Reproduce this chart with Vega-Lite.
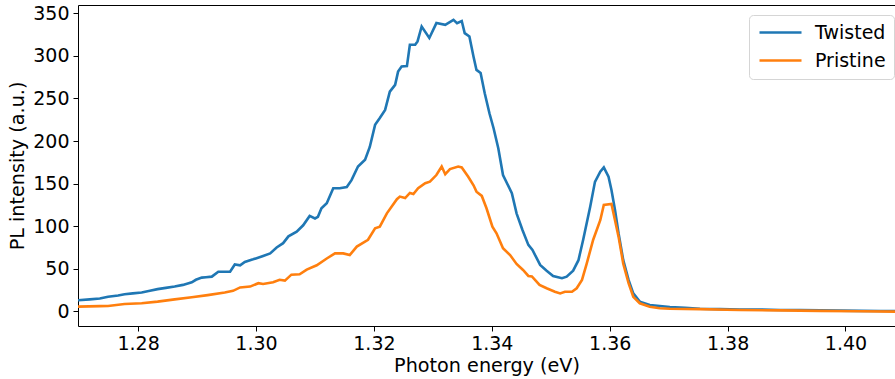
{
  "$schema": "https://vega.github.io/schema/vega-lite/v6.json",
  "autosize": "none",
  "width": 817,
  "height": 321,
  "padding": {"left": 78, "top": 5, "right": 0, "bottom": 53},
  "background": "white",
  "config": {
    "font": "DejaVu Sans",
    "view": {"stroke": null},
    "axis": {
      "grid": false,
      "domainColor": "black",
      "domainWidth": 1,
      "tickColor": "black",
      "tickSize": 5,
      "tickWidth": 1,
      "labelColor": "black",
      "labelFont": "DejaVu Sans",
      "labelFontSize": 19,
      "titleColor": "black",
      "titleFont": "DejaVu Sans",
      "titleFontSize": 19.2,
      "titleFontWeight": "normal"
    }
  },
  "datasets": {
    "spectra": [
      {"energy": 1.2698, "intensity": 13, "sample": "Twisted"},
      {"energy": 1.2718, "intensity": 14, "sample": "Twisted"},
      {"energy": 1.2735, "intensity": 15, "sample": "Twisted"},
      {"energy": 1.2749, "intensity": 17, "sample": "Twisted"},
      {"energy": 1.2766, "intensity": 18.5, "sample": "Twisted"},
      {"energy": 1.2777, "intensity": 20, "sample": "Twisted"},
      {"energy": 1.2791, "intensity": 21, "sample": "Twisted"},
      {"energy": 1.2806, "intensity": 22, "sample": "Twisted"},
      {"energy": 1.2820, "intensity": 24, "sample": "Twisted"},
      {"energy": 1.2833, "intensity": 26, "sample": "Twisted"},
      {"energy": 1.2847, "intensity": 27.5, "sample": "Twisted"},
      {"energy": 1.2862, "intensity": 29, "sample": "Twisted"},
      {"energy": 1.2876, "intensity": 31, "sample": "Twisted"},
      {"energy": 1.2891, "intensity": 34, "sample": "Twisted"},
      {"energy": 1.2898, "intensity": 37, "sample": "Twisted"},
      {"energy": 1.2908, "intensity": 39.5, "sample": "Twisted"},
      {"energy": 1.2915, "intensity": 40, "sample": "Twisted"},
      {"energy": 1.2925, "intensity": 40.7, "sample": "Twisted"},
      {"energy": 1.2936, "intensity": 46.5, "sample": "Twisted"},
      {"energy": 1.2947, "intensity": 46.5, "sample": "Twisted"},
      {"energy": 1.2956, "intensity": 46.5, "sample": "Twisted"},
      {"energy": 1.2964, "intensity": 55, "sample": "Twisted"},
      {"energy": 1.2973, "intensity": 54, "sample": "Twisted"},
      {"energy": 1.2981, "intensity": 58, "sample": "Twisted"},
      {"energy": 1.2995, "intensity": 61, "sample": "Twisted"},
      {"energy": 1.3012, "intensity": 65, "sample": "Twisted"},
      {"energy": 1.3024, "intensity": 68, "sample": "Twisted"},
      {"energy": 1.3035, "intensity": 75, "sample": "Twisted"},
      {"energy": 1.3046, "intensity": 80, "sample": "Twisted"},
      {"energy": 1.3055, "intensity": 88, "sample": "Twisted"},
      {"energy": 1.3069, "intensity": 93.5, "sample": "Twisted"},
      {"energy": 1.3080, "intensity": 101, "sample": "Twisted"},
      {"energy": 1.3091, "intensity": 112, "sample": "Twisted"},
      {"energy": 1.3100, "intensity": 109, "sample": "Twisted"},
      {"energy": 1.3105, "intensity": 111, "sample": "Twisted"},
      {"energy": 1.3111, "intensity": 121, "sample": "Twisted"},
      {"energy": 1.3120, "intensity": 127, "sample": "Twisted"},
      {"energy": 1.3131, "intensity": 144.5, "sample": "Twisted"},
      {"energy": 1.3142, "intensity": 144.5, "sample": "Twisted"},
      {"energy": 1.3154, "intensity": 146, "sample": "Twisted"},
      {"energy": 1.3162, "intensity": 154, "sample": "Twisted"},
      {"energy": 1.3173, "intensity": 170, "sample": "Twisted"},
      {"energy": 1.3185, "intensity": 178, "sample": "Twisted"},
      {"energy": 1.3193, "intensity": 193, "sample": "Twisted"},
      {"energy": 1.3202, "intensity": 219, "sample": "Twisted"},
      {"energy": 1.3210, "intensity": 227, "sample": "Twisted"},
      {"energy": 1.3219, "intensity": 236.5, "sample": "Twisted"},
      {"energy": 1.3227, "intensity": 258, "sample": "Twisted"},
      {"energy": 1.3236, "intensity": 266, "sample": "Twisted"},
      {"energy": 1.3241, "intensity": 281.5, "sample": "Twisted"},
      {"energy": 1.3247, "intensity": 287.5, "sample": "Twisted"},
      {"energy": 1.3256, "intensity": 288, "sample": "Twisted"},
      {"energy": 1.3261, "intensity": 313, "sample": "Twisted"},
      {"energy": 1.3270, "intensity": 313, "sample": "Twisted"},
      {"energy": 1.3274, "intensity": 317, "sample": "Twisted"},
      {"energy": 1.3281, "intensity": 334.5, "sample": "Twisted"},
      {"energy": 1.3294, "intensity": 321, "sample": "Twisted"},
      {"energy": 1.3306, "intensity": 338.5, "sample": "Twisted"},
      {"energy": 1.3321, "intensity": 336.4, "sample": "Twisted"},
      {"energy": 1.3335, "intensity": 342.3, "sample": "Twisted"},
      {"energy": 1.3341, "intensity": 338.5, "sample": "Twisted"},
      {"energy": 1.3349, "intensity": 341, "sample": "Twisted"},
      {"energy": 1.3354, "intensity": 326.7, "sample": "Twisted"},
      {"energy": 1.3362, "intensity": 322.7, "sample": "Twisted"},
      {"energy": 1.3369, "intensity": 299, "sample": "Twisted"},
      {"energy": 1.3374, "intensity": 283.5, "sample": "Twisted"},
      {"energy": 1.3381, "intensity": 280, "sample": "Twisted"},
      {"energy": 1.3388, "intensity": 256, "sample": "Twisted"},
      {"energy": 1.3396, "intensity": 232.6, "sample": "Twisted"},
      {"energy": 1.3403, "intensity": 215, "sample": "Twisted"},
      {"energy": 1.3411, "intensity": 191.5, "sample": "Twisted"},
      {"energy": 1.3419, "intensity": 160, "sample": "Twisted"},
      {"energy": 1.3434, "intensity": 138.7, "sample": "Twisted"},
      {"energy": 1.3442, "intensity": 115, "sample": "Twisted"},
      {"energy": 1.3452, "intensity": 95.5, "sample": "Twisted"},
      {"energy": 1.3462, "intensity": 78, "sample": "Twisted"},
      {"energy": 1.3469, "intensity": 72, "sample": "Twisted"},
      {"energy": 1.3482, "intensity": 54.4, "sample": "Twisted"},
      {"energy": 1.3493, "intensity": 47.7, "sample": "Twisted"},
      {"energy": 1.3504, "intensity": 41.5, "sample": "Twisted"},
      {"energy": 1.3519, "intensity": 38.8, "sample": "Twisted"},
      {"energy": 1.3527, "intensity": 40.7, "sample": "Twisted"},
      {"energy": 1.3538, "intensity": 47.7, "sample": "Twisted"},
      {"energy": 1.3547, "intensity": 60, "sample": "Twisted"},
      {"energy": 1.3555, "intensity": 84, "sample": "Twisted"},
      {"energy": 1.3567, "intensity": 123, "sample": "Twisted"},
      {"energy": 1.3575, "intensity": 152, "sample": "Twisted"},
      {"energy": 1.3584, "intensity": 164, "sample": "Twisted"},
      {"energy": 1.3590, "intensity": 169, "sample": "Twisted"},
      {"energy": 1.3598, "intensity": 158, "sample": "Twisted"},
      {"energy": 1.3603, "intensity": 142.5, "sample": "Twisted"},
      {"energy": 1.3609, "intensity": 119, "sample": "Twisted"},
      {"energy": 1.3615, "intensity": 91.6, "sample": "Twisted"},
      {"energy": 1.3623, "intensity": 60, "sample": "Twisted"},
      {"energy": 1.3632, "intensity": 36.8, "sample": "Twisted"},
      {"energy": 1.3640, "intensity": 21, "sample": "Twisted"},
      {"energy": 1.3651, "intensity": 11.3, "sample": "Twisted"},
      {"energy": 1.3668, "intensity": 7.4, "sample": "Twisted"},
      {"energy": 1.3685, "intensity": 6.2, "sample": "Twisted"},
      {"energy": 1.3702, "intensity": 5, "sample": "Twisted"},
      {"energy": 1.3728, "intensity": 4, "sample": "Twisted"},
      {"energy": 1.3753, "intensity": 3, "sample": "Twisted"},
      {"energy": 1.3787, "intensity": 2.5, "sample": "Twisted"},
      {"energy": 1.3821, "intensity": 2, "sample": "Twisted"},
      {"energy": 1.3855, "intensity": 2, "sample": "Twisted"},
      {"energy": 1.3889, "intensity": 1.5, "sample": "Twisted"},
      {"energy": 1.3923, "intensity": 1.5, "sample": "Twisted"},
      {"energy": 1.3957, "intensity": 1, "sample": "Twisted"},
      {"energy": 1.3991, "intensity": 0.8, "sample": "Twisted"},
      {"energy": 1.4025, "intensity": 0.5, "sample": "Twisted"},
      {"energy": 1.4059, "intensity": 0.3, "sample": "Twisted"},
      {"energy": 1.4090, "intensity": 0.3, "sample": "Twisted"},
      {"energy": 1.2698, "intensity": 5.4, "sample": "Pristine"},
      {"energy": 1.2735, "intensity": 6, "sample": "Pristine"},
      {"energy": 1.2749, "intensity": 6.2, "sample": "Pristine"},
      {"energy": 1.2777, "intensity": 8.6, "sample": "Pristine"},
      {"energy": 1.2806, "intensity": 9.4, "sample": "Pristine"},
      {"energy": 1.2833, "intensity": 11.3, "sample": "Pristine"},
      {"energy": 1.2862, "intensity": 14, "sample": "Pristine"},
      {"energy": 1.2891, "intensity": 16.4, "sample": "Pristine"},
      {"energy": 1.2918, "intensity": 19, "sample": "Pristine"},
      {"energy": 1.2947, "intensity": 22, "sample": "Pristine"},
      {"energy": 1.2961, "intensity": 24, "sample": "Pristine"},
      {"energy": 1.2973, "intensity": 28, "sample": "Pristine"},
      {"energy": 1.2990, "intensity": 29, "sample": "Pristine"},
      {"energy": 1.3004, "intensity": 33, "sample": "Pristine"},
      {"energy": 1.3012, "intensity": 32, "sample": "Pristine"},
      {"energy": 1.3029, "intensity": 34, "sample": "Pristine"},
      {"energy": 1.3040, "intensity": 37, "sample": "Pristine"},
      {"energy": 1.3049, "intensity": 36, "sample": "Pristine"},
      {"energy": 1.3060, "intensity": 43, "sample": "Pristine"},
      {"energy": 1.3074, "intensity": 43.5, "sample": "Pristine"},
      {"energy": 1.3086, "intensity": 49, "sample": "Pristine"},
      {"energy": 1.3103, "intensity": 54, "sample": "Pristine"},
      {"energy": 1.3120, "intensity": 62, "sample": "Pristine"},
      {"energy": 1.3134, "intensity": 68, "sample": "Pristine"},
      {"energy": 1.3148, "intensity": 68, "sample": "Pristine"},
      {"energy": 1.3159, "intensity": 66, "sample": "Pristine"},
      {"energy": 1.3171, "intensity": 76, "sample": "Pristine"},
      {"energy": 1.3190, "intensity": 84, "sample": "Pristine"},
      {"energy": 1.3202, "intensity": 97.5, "sample": "Pristine"},
      {"energy": 1.3210, "intensity": 99.4, "sample": "Pristine"},
      {"energy": 1.3222, "intensity": 115, "sample": "Pristine"},
      {"energy": 1.3239, "intensity": 131.6, "sample": "Pristine"},
      {"energy": 1.3244, "intensity": 134.7, "sample": "Pristine"},
      {"energy": 1.3253, "intensity": 133, "sample": "Pristine"},
      {"energy": 1.3261, "intensity": 139, "sample": "Pristine"},
      {"energy": 1.3267, "intensity": 137.7, "sample": "Pristine"},
      {"energy": 1.3275, "intensity": 144.5, "sample": "Pristine"},
      {"energy": 1.3287, "intensity": 150.4, "sample": "Pristine"},
      {"energy": 1.3295, "intensity": 152.3, "sample": "Pristine"},
      {"energy": 1.3306, "intensity": 160, "sample": "Pristine"},
      {"energy": 1.3315, "intensity": 170, "sample": "Pristine"},
      {"energy": 1.3321, "intensity": 161, "sample": "Pristine"},
      {"energy": 1.3329, "intensity": 167, "sample": "Pristine"},
      {"energy": 1.3343, "intensity": 170, "sample": "Pristine"},
      {"energy": 1.3349, "intensity": 169, "sample": "Pristine"},
      {"energy": 1.3360, "intensity": 158, "sample": "Pristine"},
      {"energy": 1.3369, "intensity": 148, "sample": "Pristine"},
      {"energy": 1.3374, "intensity": 140.5, "sample": "Pristine"},
      {"energy": 1.3383, "intensity": 135.5, "sample": "Pristine"},
      {"energy": 1.3391, "intensity": 121, "sample": "Pristine"},
      {"energy": 1.3401, "intensity": 99.4, "sample": "Pristine"},
      {"energy": 1.3408, "intensity": 91.6, "sample": "Pristine"},
      {"energy": 1.3419, "intensity": 74, "sample": "Pristine"},
      {"energy": 1.3431, "intensity": 66, "sample": "Pristine"},
      {"energy": 1.3442, "intensity": 55.6, "sample": "Pristine"},
      {"energy": 1.3453, "intensity": 48.5, "sample": "Pristine"},
      {"energy": 1.3462, "intensity": 41.5, "sample": "Pristine"},
      {"energy": 1.3468, "intensity": 41, "sample": "Pristine"},
      {"energy": 1.3481, "intensity": 31, "sample": "Pristine"},
      {"energy": 1.3493, "intensity": 27, "sample": "Pristine"},
      {"energy": 1.3507, "intensity": 23, "sample": "Pristine"},
      {"energy": 1.3516, "intensity": 21, "sample": "Pristine"},
      {"energy": 1.3524, "intensity": 23, "sample": "Pristine"},
      {"energy": 1.3536, "intensity": 23, "sample": "Pristine"},
      {"energy": 1.3544, "intensity": 27, "sample": "Pristine"},
      {"energy": 1.3553, "intensity": 36.8, "sample": "Pristine"},
      {"energy": 1.3561, "intensity": 56, "sample": "Pristine"},
      {"energy": 1.3572, "intensity": 84, "sample": "Pristine"},
      {"energy": 1.3584, "intensity": 107, "sample": "Pristine"},
      {"energy": 1.3590, "intensity": 125, "sample": "Pristine"},
      {"energy": 1.3603, "intensity": 126, "sample": "Pristine"},
      {"energy": 1.3609, "intensity": 107, "sample": "Pristine"},
      {"energy": 1.3615, "intensity": 87.7, "sample": "Pristine"},
      {"energy": 1.3623, "intensity": 56, "sample": "Pristine"},
      {"energy": 1.3632, "intensity": 33, "sample": "Pristine"},
      {"energy": 1.3640, "intensity": 17, "sample": "Pristine"},
      {"energy": 1.3651, "intensity": 9.4, "sample": "Pristine"},
      {"energy": 1.3668, "intensity": 5.4, "sample": "Pristine"},
      {"energy": 1.3685, "intensity": 3.5, "sample": "Pristine"},
      {"energy": 1.3702, "intensity": 3, "sample": "Pristine"},
      {"energy": 1.3753, "intensity": 2.5, "sample": "Pristine"},
      {"energy": 1.3821, "intensity": 1.5, "sample": "Pristine"},
      {"energy": 1.3889, "intensity": 1, "sample": "Pristine"},
      {"energy": 1.3957, "intensity": 0.5, "sample": "Pristine"},
      {"energy": 1.4025, "intensity": 0, "sample": "Pristine"},
      {"energy": 1.4090, "intensity": -0.5, "sample": "Pristine"}
    ]
  },
  "data": {"name": "spectra"},
  "layer": [
    {
      "transform": [{"filter": "datum.sample === 'Twisted'"}],
      "mark": {"type": "line", "strokeWidth": 2.6, "clip": true},
      "encoding": {
        "x": {
          "field": "energy", "type": "quantitative",
          "scale": {"domain": [1.2698, 1.4084], "nice": false, "zero": false},
          "axis": {
            "title": "Photon energy (eV)",
            "values": [1.28, 1.30, 1.32, 1.34, 1.36, 1.38, 1.40],
            "format": ".2f",
            "labelPadding": 3,
            "titlePadding": 3,
            "labelFlush": false
          }
        },
        "y": {
          "field": "intensity", "type": "quantitative",
          "scale": {"domain": [-17.3, 359.75], "nice": false, "zero": false},
          "axis": {
            "title": "PL intensity (a.u.)",
            "values": [0, 50, 100, 150, 200, 250, 300, 350],
            "labelPadding": 4,
            "titlePadding": 5,
            "labelFlush": false
          }
        },
        "color": {
          "field": "sample", "type": "nominal",
          "scale": {"domain": ["Twisted", "Pristine"], "range": ["#1f77b4", "#ff7f0e"]},
          "legend": {
            "title": null,
            "orient": "none",
            "legendX": 671,
            "legendY": 10,
            "symbolType": "M-1,0H5",
            "symbolSize": 196,
            "symbolStrokeWidth": 2.6,
            "labelFontSize": 19,
            "labelFont": "DejaVu Sans",
            "labelColor": "black",
            "labelOffset": 39,
            "rowPadding": 8,
            "padding": 8,
            "fillColor": "white",
            "strokeColor": "#d5d5d5",
            "cornerRadius": 4
          }
        }
      }
    },
    {
      "transform": [{"filter": "datum.sample === 'Pristine'"}],
      "mark": {"type": "line", "strokeWidth": 2.6, "clip": true},
      "encoding": {
        "x": {
          "field": "energy", "type": "quantitative",
          "axis": {"orient": "top", "title": null, "labels": false, "ticks": false, "domain": true}
        },
        "y": {"field": "intensity", "type": "quantitative"},
        "color": {"field": "sample", "type": "nominal"}
      }
    }
  ],
  "resolve": {"axis": {"x": "independent"}}
}
